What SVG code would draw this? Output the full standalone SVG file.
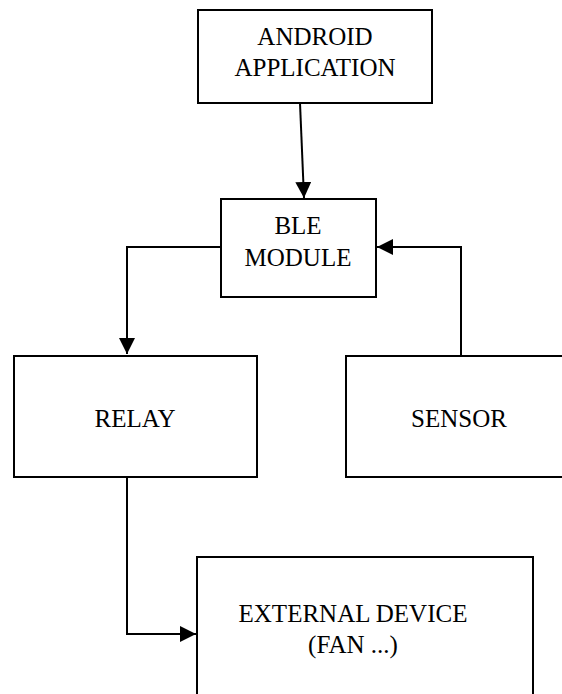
<svg xmlns="http://www.w3.org/2000/svg" width="562" height="694" viewBox="0 0 562 694">
<style>
.box{fill:#fff;stroke:#000;stroke-width:2}
.lbl{font-family:"Liberation Serif","Times New Roman",serif;font-size:25px;fill:#000;text-anchor:middle}
.con{fill:none;stroke:#000;stroke-width:2}
</style>
<defs>
<marker id="ah" markerUnits="userSpaceOnUse" markerWidth="16" markerHeight="16" viewBox="0 0 16 16" refX="16" refY="8" orient="auto">
<path d="M0,0 L16,8 L0,16 Z" fill="#000"/>
</marker>
</defs>
<g id="android"><rect class="box" x="198" y="10" width="234" height="93"/><text class="lbl" x="315" y="45">ANDROID</text><text class="lbl" x="315" y="76">APPLICATION</text></g>
<g id="ble"><rect class="box" x="221" y="199" width="155" height="98"/><text class="lbl" x="298" y="234">BLE</text><text class="lbl" x="298" y="266">MODULE</text></g>
<g id="relay"><rect class="box" x="14" y="356" width="243" height="121"/><text class="lbl" x="135" y="427">RELAY</text></g>
<g id="sensor"><rect class="box" x="346" y="356" width="218" height="121"/><text class="lbl" x="459" y="427">SENSOR</text></g>
<g id="external"><rect class="box" x="197" y="557" width="336" height="150"/><text class="lbl" x="353" y="622">EXTERNAL DEVICE</text><text class="lbl" x="353" y="653">(FAN ...)</text></g>
<g id="connectors">
<path class="con" d="M300,103 L304,198" marker-end="url(#ah)"/>
<path class="con" d="M221,247 L127,247 L127,354" marker-end="url(#ah)"/>
<path class="con" d="M461,356 L461,247 L377,247" marker-end="url(#ah)"/>
<path class="con" d="M127,477 L127,634 L196,634" marker-end="url(#ah)"/>
</g>
</svg>
